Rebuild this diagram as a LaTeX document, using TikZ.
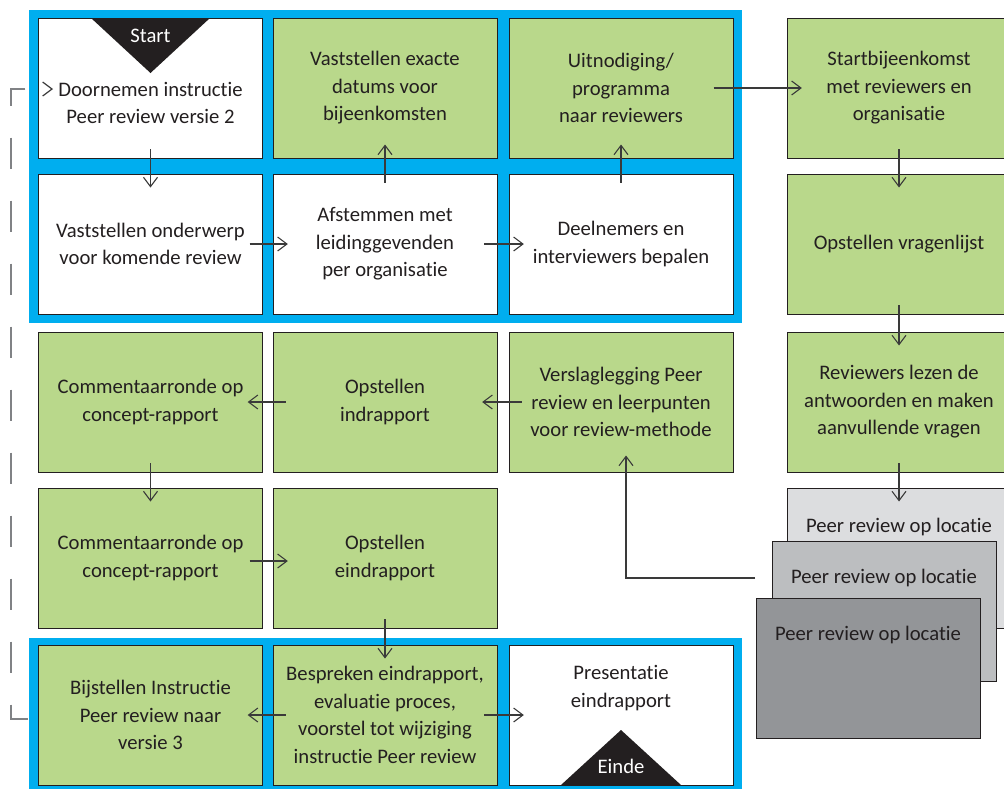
\documentclass[tikz,border=0pt]{standalone}
\usepackage{fontspec}
\setmainfont{Carlito}[Ligatures=NoCommon]
\usetikzlibrary{arrows.meta,calc}
\definecolor{cblue}{HTML}{00AEEF}
\definecolor{cgreen}{HTML}{B9D88B}
\definecolor{cdark}{HTML}{231F20}
\definecolor{cline}{HTML}{3A3A3A}
\definecolor{cgrayA}{HTML}{DCDDDF}
\definecolor{cgrayB}{HTML}{BCBEC0}
\definecolor{cgrayC}{HTML}{939598}
\definecolor{cdash}{HTML}{808285}
\begin{document}
\begin{tikzpicture}[x=0.75pt,y=-0.75pt,
  every node/.style={font=\fontsize{15.5}{20.6}\selectfont, text=cdark},
  box/.style={draw=cdark, line width=0.75pt, minimum width=168pt, minimum height=105pt, inner sep=0pt, align=center, fill=white},
  gbox/.style={box, fill=cgreen},
  txt/.style={align=center, inner sep=0pt},
  flow/.style={draw=cline, line width=0.8pt, -{Straight Barb[length=7pt,width=10.5pt]}},
  vflow/.style={flow, shorten <=-7pt, shorten >=-10.5pt},
  hflow/.style={flow, shorten <=-10pt, shorten >=-11.5pt},
  frame/.style={fill=cblue, draw=none},
  tri/.style={fill=cdark, draw=none},
  dashloop/.style={draw=cdash, line width=0.9pt, dash pattern=on 23.25pt off 24pt, dash phase=27.75pt},
]
\useasboundingbox (0,0) rectangle (1004,789);
\clip (0,0) rectangle (1004,789);
\fill[white] (0,0) rectangle (1004,789);
% blue frames
\path[frame] (29,10) rectangle (742,323);
\path[frame] (29,638) rectangle (742,795);
% row 1
\node[box] (doorn) at (150.5,88) {};
\node[gbox] (datum) at (385,88) {Vaststellen exacte\\datums voor\\bijeenkomsten};
\node[gbox] (uitn) at (621,88) {Uitnodiging/\\programma\\naar reviewers};
\node[gbox] (startb) at (899,88) {Startbijeenkomst\\met reviewers en\\organisatie};
% row 2
\node[box] (onderw) at (150.5,244) {Vaststellen onderwerp\\voor komende review};
\node[box] (afst) at (385,244) {Afstemmen met\\leidinggevenden\\per organisatie};
\node[box] (deeln) at (621,244) {Deelnemers en\\interviewers bepalen};
\node[gbox] (vragen) at (899,244) {Opstellen vragenlijst};
% row 3
\node[gbox] (comm1) at (150.5,402) {Commentaarronde op\\concept-rapport};
\node[gbox] (indr) at (385,402) {Opstellen\\indrapport};
\node[gbox] (versl) at (621,402) {Verslaglegging Peer\\review en leerpunten\\voor review-methode};
\node[gbox] (revlez) at (899,402) {Reviewers lezen de\\antwoorden en maken\\aanvullende vragen};
% row 4
\node[gbox] (comm2) at (150.5,558) {Commentaarronde op\\concept-rapport};
\node[gbox] (eindr) at (385,558) {Opstellen\\eindrapport};
\node[box, fill=cgrayA] (prA) at (899,558) {};
\node[txt] (prAt) at (899,527) {Peer review op locatie};
\node[box, fill=cgrayB] (prB) at (884,611.5) {};
\node[txt] (prBt) at (884,578) {Peer review op locatie};
\node[box, fill=cgrayC] (prC) at (868,668.5) {};
\node[txt] (prCt) at (868,635) {Peer review op locatie};
% row 5
\node[gbox] (bijst) at (150.5,715) {Bijstellen Instructie\\Peer review naar\\versie 3};
\node[gbox] (bespr) at (385,715) {Bespreken eindrapport,\\evaluatie proces,\\voorstel tot wijziging\\instructie Peer review};
\node[box] (pres) at (621,715) {};
% texts with offsets
\node[txt] (doornt) at (150.5,103) {Doornemen instructie\\Peer review versie 2};
\node[txt] (prest) at (621,688) {Presentatie\\eindrapport};
% start / end triangles
\path[tri] (91,18) -- (210,18) -- (150.5,73) -- cycle;
\node[text=white] (startl) at (150.5,36) {Start};
\path[tri] (561,785) -- (681,785) -- (621,730) -- cycle;
\node[text=white] (eindel) at (621,766) {Einde};
% connectors
\draw[vflow] (doorn) -- (onderw);
\draw[hflow] (onderw) -- (afst);
\draw[vflow] (afst) -- (datum);
\draw[hflow] (afst) -- (deeln);
\draw[vflow] (deeln) -- (uitn);
\draw[hflow, shorten <=-15pt] (uitn) -- (startb);
\draw[vflow] (startb) -- (vragen);
\draw[vflow] (vragen) -- (revlez);
\draw[vflow] (revlez) -- (prA);
\coordinate (fb) at (755,578);
\draw[flow, shorten >=-12.75pt] (fb) -| ([xshift=3.75pt]versl.south);
\draw[hflow] (versl) -- (indr);
\draw[hflow] (indr) -- (comm1);
\draw[vflow] (comm1) -- (comm2);
\draw[hflow] ([yshift=-2.25pt]comm2.east) -- ([yshift=-2.25pt]eindr.west);
\draw[vflow] (eindr) -- (bespr);
\draw[hflow] (bespr) -- (bijst);
\draw[hflow] (bespr) -- (pres);
% dashed feedback loop
\coordinate (lpT) at (11,89);
\coordinate (lpB) at (11,719);
\draw[dashloop, {Straight Barb[length=7pt,width=10.5pt,color=cline]}-] ([shift={(15,1)}]doorn.west) -- (lpT) -- (lpB) -- ([shift={(7,4)}]bijst.west);
\end{tikzpicture}
\end{document}
